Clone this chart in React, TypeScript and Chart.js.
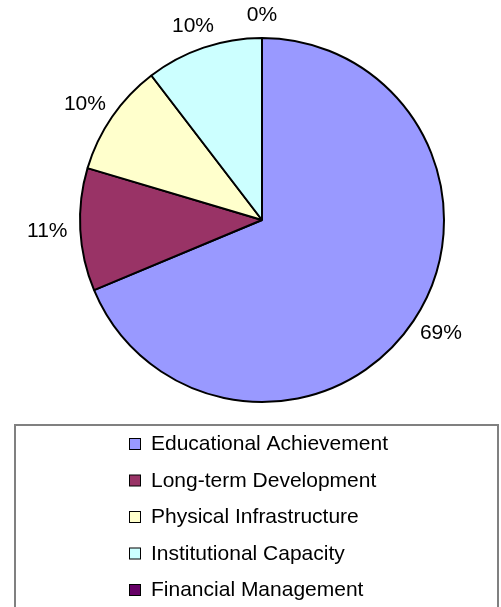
import React, { useEffect, useRef } from "react";
import { Chart, registerables } from "chart.js";

Chart.register(...registerables);

const categories = [
  "Educational Achievement",
  "Long-term Development",
  "Physical Infrastructure",
  "Institutional Capacity",
  "Financial Management",
];
const shares = [68.7, 10.9, 10.0, 10.4, 0];
const sliceColors = ["#9999FF", "#993366", "#FFFFCC", "#CCFFFF", "#660066"];

const FONT = '"Liberation Sans", Arial, sans-serif';

const outsideLabels = {
  id: "outsideLabels",
  afterDatasetsDraw(chart: any) {
    const ctx = chart.ctx;
    const meta = chart.getDatasetMeta(0);
    const data = chart.data.datasets[0].data as number[];
    const total = data.reduce((a, b) => a + b, 0);
    ctx.save();
    ctx.font = `21px ${FONT}`;
    ctx.fillStyle = "#000";
    ctx.textAlign = "center";
    ctx.textBaseline = "middle";
    meta.data.forEach((arc: any, i: number) => {
      const { startAngle, endAngle, x, y, outerRadius } = arc.getProps(
        ["startAngle", "endAngle", "x", "y", "outerRadius"],
        true
      );
      const mid = (startAngle + endAngle) / 2;
      const c = Math.cos(mid);
      const s = Math.sin(mid);
      const px = x + c * (outerRadius + 12 + 21);
      const py = y + s * (outerRadius + 12 + 11);
      const pct = Math.round((data[i] / total) * 100);
      ctx.fillText(pct + "%", px, py);
    });
    ctx.restore();
  },
};

const boxedLegend = {
  id: "boxedLegend",
  afterDraw(chart: any) {
    const ctx = chart.ctx;
    const labels = chart.data.labels as string[];
    const colors = chart.data.datasets[0].backgroundColor as string[];
    ctx.save();
    ctx.strokeStyle = "#808080";
    ctx.lineWidth = 2;
    ctx.strokeRect(15, 425, 483, 220);
    ctx.font = `21px ${FONT}`;
    ctx.textAlign = "left";
    ctx.textBaseline = "alphabetic";
    labels.forEach((label, i) => {
      const base = 450 + 36.5 * i;
      ctx.fillStyle = colors[i];
      ctx.fillRect(129.5, base - 11.5, 11, 11);
      ctx.strokeStyle = "#000";
      ctx.lineWidth = 1;
      ctx.strokeRect(129.5, base - 11.5, 11, 11);
      ctx.fillStyle = "#000";
      ctx.fillText(label, 151, base);
    });
    ctx.restore();
  },
};

export default function App() {
  const ref = useRef<HTMLCanvasElement | null>(null);
  useEffect(() => {
    if (!ref.current) return;
    const chart = new Chart(ref.current, {
      type: "pie",
      data: {
        labels: categories,
        datasets: [
          {
            data: shares,
            backgroundColor: sliceColors,
            borderColor: "#000",
            borderWidth: 2,
          },
        ],
      },
      options: {
        responsive: false,
        animation: false,
        radius: 182,
        layout: { padding: { left: 23, right: 0, top: 0, bottom: 167 } },
        plugins: {
          legend: { display: false },
          tooltip: { enabled: false },
        },
      } as any,
      plugins: [outsideLabels, boxedLegend],
    });
    return () => chart.destroy();
  }, []);
  return (
    <div style={{ position: "fixed", left: 0, top: 0, width: 501, height: 607, background: "#fff" }}>
      <canvas ref={ref} width={501} height={607} style={{ display: "block" }} />
    </div>
  );
}
